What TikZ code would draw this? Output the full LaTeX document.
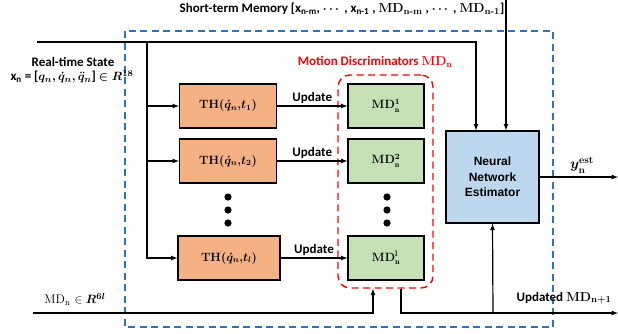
\documentclass[tikz,border=0pt]{standalone}
\usepackage{amsmath}
\usepackage{amssymb}
\usepackage{fontspec}
\setsansfont{Carlito}
\newfontfamily\arialfont{Liberation Sans}
\usepackage{tikz}
\definecolor{thorange}{HTML}{F4B183}
\definecolor{mdgreen}{HTML}{C5E0B4}
\definecolor{nnblue}{HTML}{BDD7EE}
\definecolor{frameblue}{HTML}{2E75B6}

\begin{document}
\begin{tikzpicture}[x=1pt,y=-1pt,>=latex,line width=1.2pt]
\tikzstyle{thbox}=[draw, fill=thorange, minimum width=97pt, minimum height=44pt, font=\bfseries\boldmath\fontsize{12}{14}\selectfont];
\tikzstyle{mdbox}=[draw, fill=mdgreen, minimum width=76pt, minimum height=44pt, font=\bfseries\boldmath\fontsize{12}{14}\selectfont];
\tikzstyle{seq} = [->];
\tikzstyle{lbl} = [font=\sffamily\bfseries\boldmath\fontsize{13}{15}\selectfont, inner sep=2pt];
\useasboundingbox (0,0) rectangle (618,333);
\draw [frameblue, line width=1.4pt, dash pattern=on 7pt off 4.5pt] (125,31) rectangle (553,327);
\node [draw=red, line width=1.4pt, dash pattern=on 7pt off 4.5pt, rounded corners=12pt, minimum width=95pt, minimum height=213pt] (mdn) at (385.5,181.5) {};
\node [lbl, text=red] (mdnlabel) at (375,62) {Motion Discriminators {\rmfamily MD$_\mathrm{n}$}};
\node [thbox] (th1) at (228,106) {TH($\dot{q}_n$,$t_1$)};
\node [thbox] (th2) at (228,161) {TH($\dot{q}_n$,$t_2$)};
\node [thbox, minimum width=102pt] (thl) at (229,258) {TH($\dot{q}_n$,$t_l$)};
\node [mdbox] (md1) at (386,106) {MD$^1_\mathrm{n}$};
\node [mdbox] (md2) at (386,161) {MD$^2_\mathrm{n}$};
\node [mdbox] (mdl) at (386,258) {MD$^\mathrm{l}_\mathrm{n}$};
\foreach \y in {197,210,223} {
  \fill (228,\y) circle (3.6pt);
  \fill (387,\y) circle (3.6pt);
}
\node [draw, fill=nnblue, minimum width=93pt, minimum height=92pt, align=center, font=\arialfont\bfseries\fontsize{12}{15.5}\selectfont] (nne) at (492.5,177) {Neural\\Network\\Estimator};
% inputs
\coordinate (rtin) at (37,42);
\coordinate (br) at (147,42);
\coordinate (stm) at (506,0);
\coordinate (mdin) at (33,313);
\coordinate (mdout) at (618,313);
\coordinate (jn) at (493,313);
\coordinate (yout) at (618,177);
\draw [seq] (rtin) -| ([xshift=-16.5pt]nne.north);
\draw [seq] (br) |- (th1.west);
\draw [seq] (br) |- (th2.west);
\draw [seq] (br) |- (thl.west);
\draw [seq] (th1) edge node[lbl, above] {Update} (md1);
\draw [seq] (th2) edge node[lbl, above] {Update} (md2);
\draw [seq] (thl) edge node[lbl, above] {Update} (mdl);
\draw [seq] (stm) -- ([xshift=13.5pt]nne.north);
\draw [seq] (mdin) -| ([xshift=-12.5pt]mdn.south);
\draw [seq] ([xshift=15.5pt]mdn.south) |- (mdout);
\draw [seq] (jn) -- (nne.south);
\draw [seq] (nne.east) -- (yout);
% labels
\node [lbl] (stmlabel) at (342,9) {Short-term Memory [x$_\text{n-m}$, $\cdots$ , x$_\text{n-1}$ , {\rmfamily MD$_\text{n-m}$} , $\cdots$ , {\rmfamily MD$_\text{n-1}$}]};
\node [lbl] (rtlabel) at (73,62) {Real-time State};
\node [lbl] (xlabel) at (72,77) {x$_\text{n}$ = [$q_n, \dot{q}_n, \ddot{q}_n$] $\in R^{18}$};
\node [font=\fontsize{12.5}{14}\selectfont] (mdinlabel) at (75,299) {MD$_\mathrm{n}$ $\in \boldsymbol{R^{6l}}$};
\node [lbl] (mdoutlabel) at (564,298) {Updated {\rmfamily MD$_\text{n+1}$}};
\node [font=\bfseries\boldmath\fontsize{14}{16}\selectfont] (ylabel) at (582,165) {$y^{\mathbf{est}}_{\mathbf{n}}$};
\end{tikzpicture}
\end{document}
